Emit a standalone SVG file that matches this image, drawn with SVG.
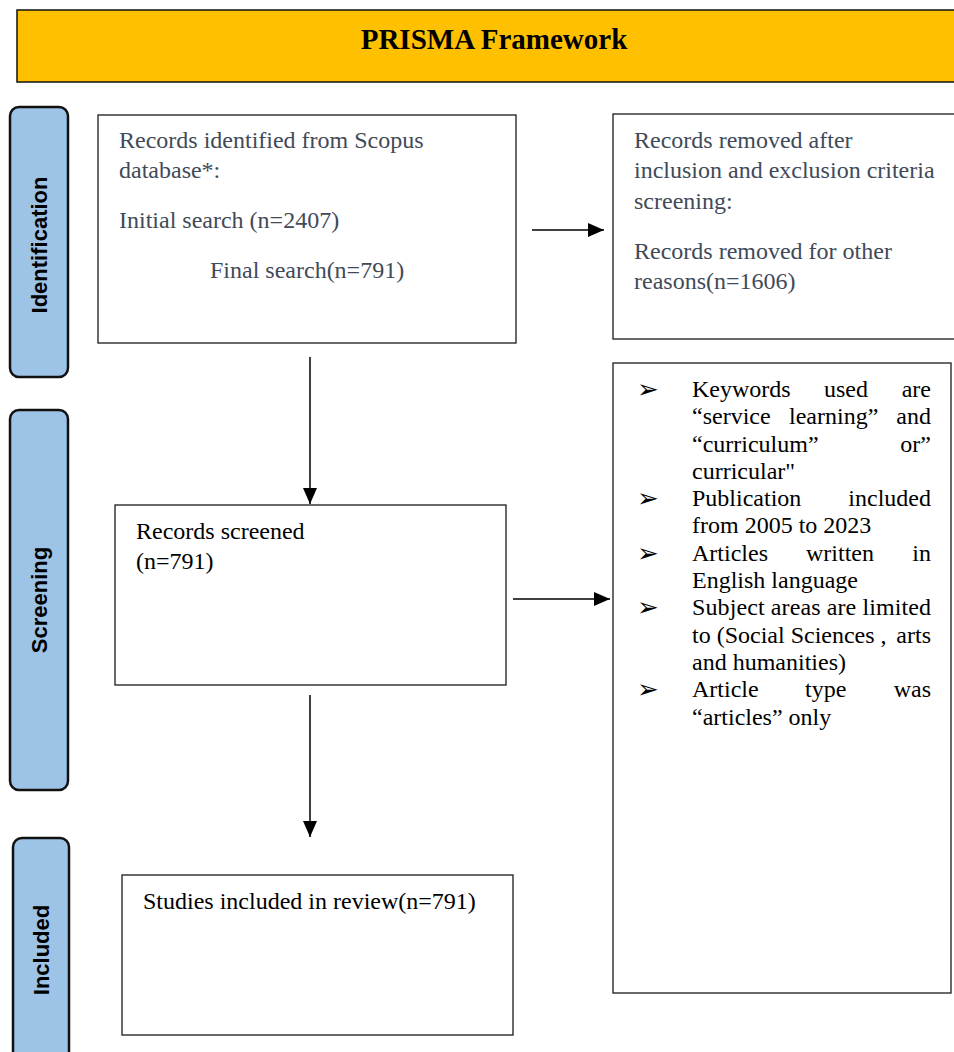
<svg xmlns="http://www.w3.org/2000/svg" width="954" height="1052" viewBox="0 0 954 1052">
<style>
.box{fill:#fff;stroke:#1a1a1a;stroke-width:1.3}
.tab{fill:#9dc3e6;stroke:#111;stroke-width:2.5}
.tabt{font-family:"Liberation Sans",Arial,sans-serif;font-weight:bold;font-size:22px;fill:#000;text-anchor:middle;dominant-baseline:central}
.t{font-family:"Liberation Serif","Times New Roman",serif;font-size:24px;fill:#000}
.g{fill:#414a58}
.bul{font-family:"DejaVu Sans",sans-serif;font-size:26px;font-weight:bold;fill:#000}
.e{text-anchor:end}
.conn{stroke:#000;stroke-width:1.5;fill:none}
</style>
<defs>
<marker id="ah" viewBox="0 0 16 14" refX="16" refY="7" markerWidth="16" markerHeight="14" markerUnits="userSpaceOnUse" orient="auto">
<path d="M0,0 L16,7 L0,14 z" fill="#000"/>
</marker>
</defs>
<rect width="954" height="1052" fill="#fff"/>
<g id="title">
<rect x="17" y="10" width="945" height="72" fill="#ffc000" stroke="#111" stroke-width="1.5"/>
<text x="494" y="49" text-anchor="middle" font-family="'Liberation Serif','Times New Roman',serif" font-weight="bold" font-size="29">PRISMA Framework</text>
</g>
<g id="tab-identification">
<rect class="tab" x="10" y="107" width="58" height="270" rx="9"/>
<text class="tabt" transform="translate(39,245) rotate(-90)">Identification</text>
</g>
<g id="tab-screening">
<rect class="tab" x="10" y="410" width="58" height="380" rx="9"/>
<text class="tabt" transform="translate(39,600) rotate(-90)">Screening</text>
</g>
<g id="tab-included">
<rect class="tab" x="13" y="838" width="56" height="240" rx="9"/>
<text class="tabt" transform="translate(41,950) rotate(-90)">Included</text>
</g>
<g id="box-identified">
<rect class="box" x="98" y="115" width="418" height="228"/>
<text class="t g" x="119" y="148">Records identified from Scopus</text>
<text class="t g" x="119" y="178">database*:</text>
<text class="t g" x="119" y="228">Initial search (n=2407)</text>
<text class="t g" x="210" y="278">Final search(n=791)</text>
</g>
<g id="box-removed">
<rect class="box" x="613" y="114" width="360" height="225"/>
<text class="t g" x="634" y="148">Records removed after</text>
<text class="t g" x="634" y="178">inclusion and exclusion criteria</text>
<text class="t g" x="634" y="209">screening:</text>
<text class="t g" x="634" y="259">Records removed for other</text>
<text class="t g" x="634" y="289">reasons(n=1606)</text>
</g>
<g id="box-criteria">
<rect class="box" x="613" y="363" width="338" height="630"/>
<text class="bul" x="637" y="398">➢</text>
<text class="t" x="692" y="397">Keywords</text><text class="t" x="824" y="397">used</text><text class="t e" x="931" y="397">are</text>
<text class="t" x="692" y="424">“service</text><text class="t" x="789" y="424">learning”</text><text class="t e" x="931" y="424">and</text>
<text class="t" x="692" y="452">“curriculum”</text><text class="t e" x="931" y="452">or”</text>
<text class="t" x="692" y="479">curricular"</text>
<text class="bul" x="637" y="507">➢</text>
<text class="t" x="692" y="506">Publication</text><text class="t e" x="931" y="506">included</text>
<text class="t" x="692" y="533">from 2005 to 2023</text>
<text class="bul" x="637" y="562">➢</text>
<text class="t" x="692" y="561">Articles</text><text class="t" x="806" y="561">written</text><text class="t e" x="931" y="561">in</text>
<text class="t" x="692" y="588">English language</text>
<text class="bul" x="637" y="616">➢</text>
<text class="t" x="692" y="615" textLength="239" lengthAdjust="spacing">Subject areas are limited</text>
<text class="t" x="692" y="643">to (Social Sciences ,</text><text class="t e" x="931" y="643">arts</text>
<text class="t" x="692" y="670">and humanities)</text>
<text class="bul" x="637" y="698">➢</text>
<text class="t" x="692" y="697">Article</text><text class="t" x="805" y="697">type</text><text class="t e" x="931" y="697">was</text>
<text class="t" x="692" y="725">“articles” only</text>
</g>
<g id="box-screened">
<rect class="box" x="115" y="505" width="391" height="180"/>
<text class="t" x="136" y="539">Records screened</text>
<text class="t" x="136" y="569">(n=791)</text>
</g>
<g id="box-included">
<rect class="box" x="122" y="875" width="391" height="160"/>
<text class="t" x="143" y="909">Studies included in review(n=791)</text>
</g>
<g id="connectors">
<line class="conn" x1="532" y1="230" x2="604" y2="230" marker-end="url(#ah)"/>
<line class="conn" x1="310" y1="357" x2="310" y2="504" marker-end="url(#ah)"/>
<line class="conn" x1="513" y1="599" x2="610" y2="599" marker-end="url(#ah)"/>
<line class="conn" x1="310" y1="695" x2="310" y2="837" marker-end="url(#ah)"/>
</g>
</svg>
